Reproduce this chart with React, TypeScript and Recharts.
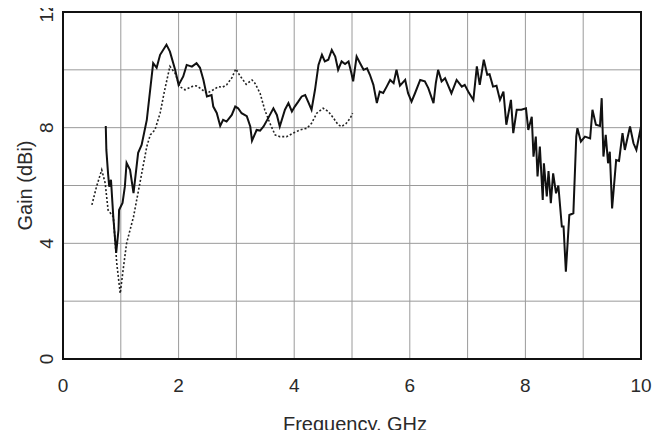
import { LineChart, Line, XAxis, YAxis, CartesianGrid, ReferenceArea } from "recharts";

// solid trace (Gain vs Frequency)
const solidFreq = [
  0.74, 0.75, 0.78, 0.8, 0.83, 0.87, 0.92, 0.96, 0.97, 1.03, 1.07, 1.1, 1.16, 1.22, 1.3, 1.36, 1.45, 1.56, 1.62, 1.68,
  1.79, 1.85, 1.94, 2.0, 2.08, 2.14, 2.23, 2.31, 2.37, 2.43, 2.49, 2.57, 2.6, 2.66, 2.72, 2.77, 2.83, 2.92, 2.98, 3.03,
  3.09, 3.18, 3.24, 3.27, 3.35, 3.41, 3.47, 3.55, 3.64, 3.7, 3.75, 3.84, 3.9, 3.96, 4.01, 4.07, 4.13, 4.19, 4.24, 4.3,
  4.36, 4.42, 4.48, 4.53, 4.59, 4.65, 4.71, 4.76, 4.82, 4.88, 4.94, 4.99, 5.02, 5.08, 5.14, 5.2, 5.26, 5.31, 5.37, 5.43,
  5.48, 5.54, 5.6, 5.66, 5.72, 5.77, 5.83, 5.92, 5.97, 6.03, 6.09, 6.18, 6.26, 6.32, 6.41, 6.45, 6.49, 6.55, 6.61, 6.72,
  6.81, 6.9, 6.95, 7.01, 7.1, 7.16, 7.21, 7.28, 7.34, 7.38, 7.44, 7.5, 7.56, 7.62, 7.67, 7.75, 7.79, 7.85, 7.93, 8.01,
  8.05, 8.11, 8.14, 8.18, 8.21, 8.25, 8.3, 8.32, 8.37, 8.4, 8.44, 8.48, 8.53, 8.57, 8.63, 8.66, 8.7, 8.76, 8.83, 8.88,
  8.9, 8.96, 9.03, 9.12, 9.16, 9.22, 9.29, 9.32, 9.35, 9.39, 9.43, 9.46, 9.5, 9.57, 9.62, 9.68, 9.72, 9.81, 9.87, 9.92,
  10.0,
];
const solidGain = [
  8.06, 7.23, 6.4, 5.96, 6.2, 4.92, 3.67, 4.46, 5.15, 5.4, 5.96, 6.78, 6.54, 5.74, 7.13, 7.4, 8.27, 10.23, 10.07, 10.52,
  10.87, 10.63, 10.0, 9.48, 9.77, 10.17, 10.11, 10.23, 10.07, 9.65, 9.08, 9.13, 8.73, 8.51, 8.06, 8.27, 8.21, 8.44, 8.73, 8.67,
  8.5, 8.4, 8.04, 7.55, 7.92, 7.9, 8.04, 8.33, 8.67, 8.44, 8.04, 8.62, 8.85, 8.56, 8.73, 8.9, 9.08, 9.13, 8.9, 8.62,
  9.31, 10.17, 10.52, 10.29, 10.35, 10.69, 10.46, 10.0, 10.29, 10.2, 10.29, 9.88, 9.6, 10.46, 10.23, 10.0, 10.05, 9.83, 9.48, 8.85,
  9.25, 9.2, 9.42, 9.65, 9.54, 10.0, 9.45, 9.65, 9.19, 8.9, 9.19, 9.65, 9.6, 9.37, 8.85, 9.54, 10.0, 9.6, 9.71, 9.19,
  9.65, 9.42, 9.48, 9.25, 8.96, 10.12, 9.48, 10.35, 9.83, 9.85, 9.42, 9.45, 8.96, 9.25, 8.1, 8.96, 7.81, 8.62, 8.62, 8.67,
  7.92, 8.38, 7.0, 7.69, 6.31, 7.35, 5.5, 6.77, 5.62, 6.5, 5.39, 6.42, 5.73, 6.0, 4.58, 4.58, 3.02, 4.98, 5.04, 7.69,
  7.98, 7.52, 7.69, 7.63, 8.62, 8.1, 8.06, 9.02, 7.0, 7.75, 6.77, 7.17, 5.21, 6.88, 6.85, 7.81, 7.23, 8.04, 7.46, 7.23,
  8.04,
];

// dotted trace
const dottedFreq = [
  0.5, 0.58, 0.67, 0.73, 0.78, 0.87, 0.93, 0.99, 1.04, 1.1, 1.22, 1.33, 1.45, 1.51, 1.59, 1.68, 1.76, 1.85, 1.94, 2.02,
  2.11, 2.23, 2.3, 2.37, 2.49, 2.6, 2.69, 2.76, 2.83, 2.92, 2.99, 3.06, 3.17, 3.27, 3.32, 3.41, 3.49, 3.58, 3.67, 3.75,
  3.87, 3.98, 4.1, 4.22, 4.3, 4.39, 4.5, 4.59, 4.68, 4.76, 4.82, 4.9, 4.97, 5.01,
];
const dottedGain = [
  5.33, 5.96, 6.54, 6.08, 5.15, 4.92, 3.31, 2.27, 3.08, 4.0, 4.92, 6.08, 7.35, 7.75, 7.92, 8.5, 9.31, 10.12, 9.88, 9.42,
  9.31, 9.42, 9.45, 9.37, 9.19, 9.31, 9.42, 9.4, 9.48, 9.72, 10.03, 9.8, 9.5, 9.65, 9.54, 9.19, 8.62, 8.15, 7.75, 7.69,
  7.69, 7.81, 7.92, 7.98, 8.15, 8.5, 8.67, 8.56, 8.33, 8.1, 8.04, 8.15, 8.33, 8.5,
];

const xTicks = [0, 1, 2, 3, 4, 5, 6, 7, 8, 9, 10];
const yTicks = [0, 2, 4, 6, 8, 10, 12];

const solid = solidFreq.map((f, i) => ({ f, g: solidGain[i] }));
const dotted = dottedFreq.map((f, i) => ({ f, g: dottedGain[i] }));

const FONT = "'Liberation Sans', Arial, sans-serif";
const TEXT = "#2a2a2a";

function XTick({ x, y, payload }: any) {
  if (payload.value % 2 !== 0) return null;
  return (
    <text x={x} y={y + 33} textAnchor="middle" fontSize={19} fontFamily={FONT} fill={TEXT}>
      {payload.value}
    </text>
  );
}

function YTick({ x, y, payload }: any) {
  if (payload.value % 4 !== 0) return null;
  const bx = x - 10;
  return (
    <text
      x={bx}
      y={y}
      transform={`rotate(-90 ${bx} ${y})`}
      textAnchor="middle"
      fontSize={19}
      fontFamily={FONT}
      fill={TEXT}
    >
      {payload.value}
    </text>
  );
}

export default function App() {
  return (
    <div style={{ margin: -8 }}>
      <LineChart width={664} height={438} margin={{ top: 12, right: 23, bottom: 0, left: 0 }}>
        <CartesianGrid stroke="#9a9a9a" strokeWidth={1} />
        <XAxis
          dataKey="f"
          type="number"
          domain={[0, 10]}
          ticks={xTicks}
          interval={0}
          height={79}
          tickSize={0}
          tickMargin={0}
          axisLine={false}
          tickLine={false}
          tick={<XTick />}
          allowDataOverflow
          label={{
            content: ({ viewBox }: any) => (
              <text
                x={viewBox.x + viewBox.width / 2 + 3}
                y={viewBox.y + 72}
                textAnchor="middle"
                fontSize={20}
                fontFamily={FONT}
                fill={TEXT}
              >
                Frequency, GHz
              </text>
            ),
          }}
        />
        <YAxis
          type="number"
          domain={[0, 12]}
          ticks={yTicks}
          interval={0}
          width={63}
          tickSize={0}
          tickMargin={0}
          axisLine={false}
          tickLine={false}
          tick={<YTick />}
          allowDataOverflow
          label={{
            content: ({ viewBox }: any) => {
              const lx = viewBox.x + 32;
              const ly = viewBox.y + viewBox.height / 2;
              return (
                <text
                  x={lx}
                  y={ly}
                  transform={`rotate(-90 ${lx} ${ly})`}
                  textAnchor="middle"
                  fontSize={20}
                  fontFamily={FONT}
                  fill={TEXT}
                >
                  Gain (dBi)
                </text>
              );
            },
          }}
        />
        <ReferenceArea x1={0} x2={10} y1={0} y2={12} fill="none" stroke="#111" strokeWidth={2} ifOverflow="visible" />
        <Line
          data={dotted}
          dataKey="g"
          type="linear"
          stroke="#222"
          strokeWidth={1.6}
          strokeDasharray="2 2"
          dot={false}
          isAnimationActive={false}
        />
        <Line
          data={solid}
          dataKey="g"
          type="linear"
          stroke="#111"
          strokeWidth={2}
          dot={false}
          isAnimationActive={false}
        />
      </LineChart>
    </div>
  );
}
